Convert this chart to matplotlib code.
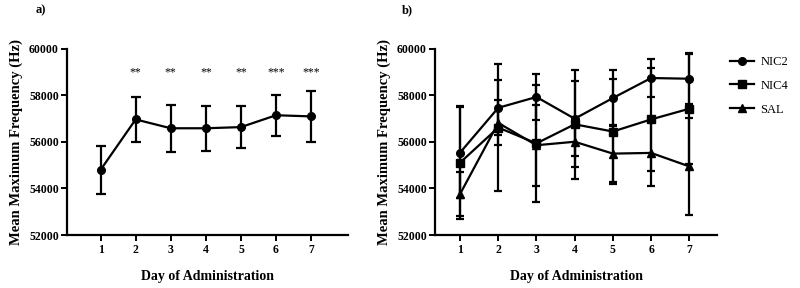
import matplotlib
matplotlib.use("Agg")
import matplotlib.pyplot as plt
import numpy as np

days = [1, 2, 3, 4, 5, 6, 7]

# Panel a
mean_a = [54800, 56970, 56590, 56590, 56640, 57150, 57100]
err_a = [1040, 960, 1000, 970, 890, 880, 1090]
stars = ["", "**", "**", "**", "**", "***", "***"]
star_y = 59000

# Panel b
nic2 = [55540, 57470, 57935, 57000, 57890, 58750, 58720]
nic2_err = [1970, 1180, 1000, 1610, 1220, 820, 1080]
nic4 = [55110, 56620, 55940, 56760, 56450, 56970, 57430]
nic4_err = [2420, 2740, 2510, 2340, 2240, 2210, 2390]
sal = [53760, 56820, 55860, 56010, 55500, 55530, 54950]
sal_err = [940, 970, 1750, 1070, 1210, 1440, 2100]
series_names = ["NIC2", "NIC4", "SAL"]

yticks = [52000, 54000, 56000, 58000, 60000]

plt.rcParams['font.family'] = ['Liberation Serif', 'DejaVu Serif']
plt.rcParams['font.weight'] = 'bold'

fig = plt.figure(figsize=(8, 2.88), dpi=100)
ax1 = fig.add_axes([0.084, 0.184, 0.351, 0.646])
ax2 = fig.add_axes([0.544, 0.184, 0.352, 0.646])

def style(ax, xlim):
    ax.set_xlim(*xlim)
    ax.set_ylim(52000, 60000)
    ax.set_yticks(yticks)
    ax.set_xticks(days)
    ax.spines['top'].set_visible(False)
    ax.spines['right'].set_visible(False)
    for s in ['left', 'bottom']:
        ax.spines[s].set_linewidth(1.6)
    ax.tick_params(axis='both', width=1.4, length=4, labelsize=8.5, direction='out')
    ax.tick_params(axis='y', pad=2)
    ax.tick_params(axis='x', pad=2.5)
    for lab in ax.get_xticklabels() + ax.get_yticklabels():
        lab.set_fontweight('bold')
    ax.set_ylabel("Mean Maximum Frequency (Hz)", fontsize=10.5, fontweight='bold', labelpad=4)
    ax.set_xlabel("Day of Administration", fontsize=10, fontweight='bold', labelpad=10)

# Panel a
ax1.errorbar(days, mean_a, yerr=err_a, color='black', marker='o', markersize=5.5,
             linewidth=1.6, elinewidth=1.6, capsize=3.5, capthick=1.6)
for d, s in zip(days, stars):
    if s:
        ax1.text(d, star_y, s, ha='center', va='center', fontsize=8.5, fontweight='normal')
style(ax1, (0.05, 8.05))

# Panel b
markers = ['o', 's', '^']
for vals, errs, m, name in zip([nic2, nic4, sal], [nic2_err, nic4_err, sal_err], markers, series_names):
    ax2.errorbar(days, vals, yerr=errs, color='black', marker=m, markersize=5.5,
                 linewidth=1.6, elinewidth=1.6, capsize=3, capthick=1.6, label=name)
style(ax2, (0.35, 7.72))

handles, labels = ax2.get_legend_handles_labels()
handles = [h[0] for h in handles]
leg = fig.legend(handles, labels, loc='upper left', bbox_to_anchor=(0.899, 0.845),
                 frameon=False, handlelength=1.9, labelspacing=0.95,
                 handletextpad=0.5, prop={'weight': 'normal', 'size': 9})

fig.text(0.045, 0.965, "a)", fontsize=9, fontweight='bold', va='center')
fig.text(0.502, 0.965, "b)", fontsize=9, fontweight='bold', va='center')

fig.savefig("out.png", dpi=100)
